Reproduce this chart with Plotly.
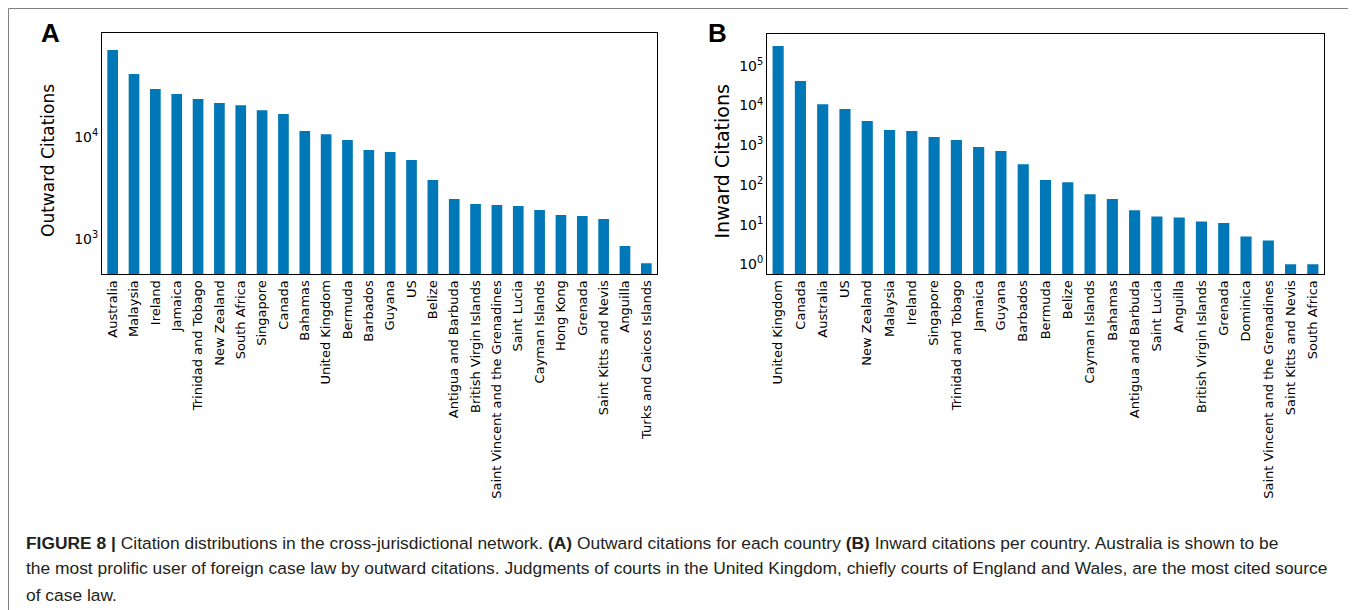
import plotly.graph_objects as go

OFF = 8  # page body margin
W, H = 1356 - OFF, 610 - OFF

out_countries = ["Australia", "Malaysia", "Ireland", "Jamaica", "Trinidad and Tobago", "New Zealand",
                 "South Africa", "Singapore", "Canada", "Bahamas", "United Kingdom", "Bermuda",
                 "Barbados", "Guyana", "US", "Belize", "Antigua and Barbuda", "British Virgin Islands",
                 "Saint Vincent and the Grenadines", "Saint Lucia", "Cayman Islands", "Hong Kong",
                 "Grenada", "Saint Kitts and Nevis", "Anguilla", "Turks and Caicos Islands"]
out_values = [70800, 41200, 29400, 26200, 23400, 21400, 20400, 18200, 16700, 11400, 10600, 9270,
              7400, 7080, 5900, 3760, 2450, 2190, 2140, 2090, 1910, 1710, 1670, 1560, 848, 576]

in_countries = ["United Kingdom", "Canada", "Australia", "US", "New Zealand", "Malaysia", "Ireland",
                "Singapore", "Trinidad and Tobago", "Jamaica", "Guyana", "Barbados", "Bermuda",
                "Belize", "Cayman Islands", "Bahamas", "Antigua and Barbuda", "Saint Lucia",
                "Anguilla", "British Virgin Islands", "Grenada", "Dominica",
                "Saint Vincent and the Grenadines", "Saint Kitts and Nevis", "South Africa"]
in_values = [313000, 41200, 10800, 8100, 4050, 2400, 2260, 1600, 1345, 896, 710, 332, 132, 117,
             58, 44, 23, 16, 15, 12, 11, 5, 4, 1, 1]

out_ticks = [1e3, 1e4]
out_ticktext = ["10<sup>3</sup>", "10<sup>4</sup>"]
in_ticks = [1e0, 1e1, 1e2, 1e3, 1e4, 1e5]
in_ticktext = ["10<sup>0</sup>", "10<sup>1</sup>", "10<sup>2</sup>", "10<sup>3</sup>",
               "10<sup>4</sup>", "10<sup>5</sup>"]

BAR = "#0077B6"
FONT = "DejaVu Sans"

def px_x(v):
    return (v - OFF) / W

def px_y(v):
    return 1 - (v - OFF) / H

fig = go.Figure()
fig.add_trace(go.Bar(x=out_countries, y=out_values, marker=dict(color=BAR, line=dict(width=0)),
                     xaxis="x", yaxis="y", showlegend=False))
fig.add_trace(go.Bar(x=in_countries, y=in_values, marker=dict(color=BAR, line=dict(width=0)),
                     xaxis="x2", yaxis="y2", showlegend=False))

xcommon = dict(showline=True, linecolor="black", linewidth=1, mirror=True, tickangle=-90,
               tickfont=dict(family=FONT, size=13, color="black"), ticks="", showgrid=False,
               automargin=False, zeroline=False)
ycommon = dict(type="log", showline=True, linecolor="black", linewidth=1, mirror=True,
               tickfont=dict(family=FONT, size=14, color="black"), ticks="", showgrid=False,
               automargin=False, zeroline=False)

fig.update_layout(
    width=W, height=H,
    margin=dict(l=0, r=0, t=0, b=0),
    paper_bgcolor="white", plot_bgcolor="white",
    bargap=0.5,
    xaxis=dict(domain=[px_x(102), px_x(657)], range=[-0.5, len(out_countries) - 0.5],
               anchor="y", **xcommon),
    yaxis=dict(domain=[px_y(274), px_y(33)], range=[2.654, 5.017], anchor="x",
               tickvals=out_ticks, ticktext=out_ticktext, **ycommon),
    xaxis2=dict(domain=[px_x(767), px_x(1324)], range=[-0.5, len(in_countries) - 0.5],
                anchor="y2", **xcommon),
    yaxis2=dict(domain=[px_y(274), px_y(34)], range=[-0.244, 5.80], anchor="x2",
                tickvals=in_ticks, ticktext=in_ticktext, **ycommon),
)

# outer frame
fig.add_shape(type="rect", xref="paper", yref="paper", x0=px_x(8.5), x1=px_x(1352.5),
              y0=px_y(640), y1=px_y(8.5), line=dict(color="#808080", width=1), layer="below")

annots = []
annots.append(dict(text="<b>A</b>", x=px_x(50), y=px_y(33), font=dict(family="Liberation Sans", size=26, color="black")))
annots.append(dict(text="<b>B</b>", x=px_x(717), y=px_y(33), font=dict(family="Liberation Sans", size=26, color="black")))
annots.append(dict(text="Outward Citations", x=px_x(48), y=px_y(161), textangle=-90,
                   font=dict(family=FONT, size=17, color="black")))
annots.append(dict(text="Inward Citations", x=px_x(721), y=px_y(161.5), textangle=-90,
                   font=dict(family=FONT, size=19, color="black")))

cap_font = dict(family="Liberation Sans", size=17.4, color="#231f20")
cap_lines = [
    "<b>FIGURE 8 |</b> Citation distributions in the cross-jurisdictional network. <b>(A)</b> Outward citations for each country <b>(B)</b> Inward citations per country. Australia is shown to be",
    "the most prolific user of foreign case law by outward citations. Judgments of courts in the United Kingdom, chiefly courts of England and Wales, are the most cited source",
    "of case law.",
]
for txt, yy in zip(cap_lines, [543, 568, 595]):
    annots.append(dict(text=txt, x=px_x(24), y=px_y(yy), xanchor="left", font=cap_font))

for a in annots:
    a.setdefault("xanchor", "center")
    a.update(xref="paper", yref="paper", showarrow=False, yanchor="middle")
    fig.add_annotation(**a)

fig.write_html("out.html")
